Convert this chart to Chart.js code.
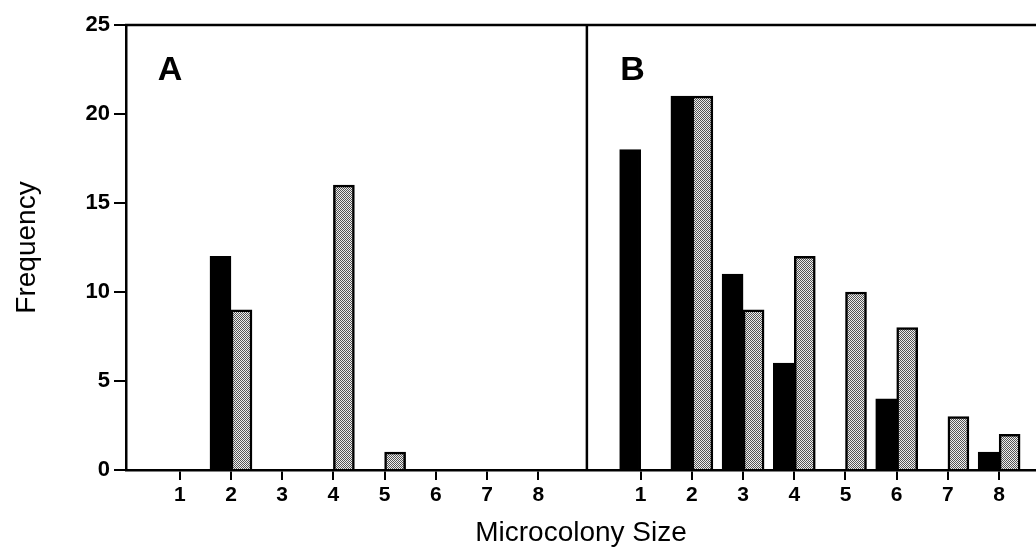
<!DOCTYPE html>
<html>
<head>
<meta charset="utf-8">
<script src="https://cdn.jsdelivr.net/npm/chart.js@4/dist/chart.umd.min.js"></script>
<style>
  body { margin: 0; background: #fff; }
  #wrap { width: 1036px; height: 550px; }
</style>
</head>
<body>
<div id="wrap"><canvas id="chart"></canvas></div>
<script>
// values
const sizes = ["1", "2", "3", "4", "5", "6", "7", "8"];
const panelA_black = [0, 12, 0, 0, 0, 0, 0, 0];
const panelA_gray = [0, 9, 0, 16, 1, 0, 0, 0];
const panelB_black = [18, 21, 11, 6, 0, 4, 0, 1];
const panelB_gray = [0, 21, 9, 12, 10, 8, 3, 2];
const yTicks = [0, 5, 10, 15, 20, 25];

// panel B sits 9 units to the right of panel A on the shared x scale
const offsetA = 1;
const offsetB = 10;
const dividerAt = 8.95;

function toPoints(values, offset) {
  const pts = [];
  values.forEach((v, i) => {
    if (v > 0) pts.push({ x: i + offset, y: v });
  });
  return pts;
}

// fine stipple fill for the grey bars
function stipple() {
  const c = document.createElement("canvas");
  c.width = 2;
  c.height = 2;
  const g = c.getContext("2d");
  g.fillStyle = "#eeeeee";
  g.fillRect(0, 0, 2, 2);
  g.fillStyle = "#555555";
  g.fillRect(0, 0, 1, 1);
  g.fillRect(1, 1, 1, 1);
  return g.createPattern(c, "repeat");
}

const tickPositions = sizes.map((s, i) => i + offsetA).concat(sizes.map((s, i) => i + offsetB));
const font = "'Liberation Sans', Arial, sans-serif";

const panelFrame = {
  id: "panelFrame",
  afterDraw(chart) {
    const { ctx, chartArea, scales } = chart;
    ctx.save();
    ctx.strokeStyle = "#000";
    ctx.lineWidth = 2.5;
    ctx.beginPath();
    ctx.moveTo(chartArea.left - 1, chartArea.top);
    ctx.lineTo(chartArea.right, chartArea.top);
    const dx = scales.x.getPixelForValue(dividerAt);
    ctx.moveTo(dx, chartArea.top);
    ctx.lineTo(dx, chartArea.bottom);
    ctx.stroke();

    ctx.fillStyle = "#000";
    ctx.font = "bold 34px " + font;
    ctx.textBaseline = "alphabetic";
    ctx.fillText("A", scales.x.getPixelForValue(0.57), scales.y.getPixelForValue(21.9));
    ctx.fillText("B", scales.x.getPixelForValue(9.6), scales.y.getPixelForValue(21.9));
    ctx.restore();
  }
};

new Chart(document.getElementById("chart"), {
  type: "bar",
  data: {
    datasets: [
      {
        label: "black",
        data: toPoints(panelA_black, offsetA).concat(toPoints(panelB_black, offsetB)),
        backgroundColor: "#000",
        borderColor: "#000",
        borderWidth: 2
      },
      {
        label: "grey",
        data: toPoints(panelA_gray, offsetA).concat(toPoints(panelB_gray, offsetB)),
        backgroundColor: stipple(),
        borderColor: "#000",
        borderWidth: 2.5
      }
    ]
  },
  options: {
    responsive: true,
    maintainAspectRatio: false,
    animation: false,
    layout: { padding: { left: 0, right: 0, top: 25, bottom: 0 } },
    datasets: { bar: { barThickness: 21, grouped: true } },
    plugins: { legend: { display: false }, tooltip: { enabled: false } },
    scales: {
      x: {
        type: "linear",
        offset: false,
        min: -0.05,
        max: 17.72,
        afterBuildTicks(scale) {
          scale.ticks = tickPositions.map(v => ({ value: v }));
        },
        afterFit(scale) { scale.height = 80; },
        ticks: {
          color: "#000",
          font: { family: font, size: 21, weight: "bold" },
          padding: 3,
          maxRotation: 0,
          autoSkip: false,
          callback(value) {
            const i = value >= offsetB ? value - offsetB : value - offsetA;
            return sizes[i];
          }
        },
        grid: { offset: false, drawOnChartArea: false, drawTicks: true, tickLength: 10, color: "#000", lineWidth: 2 },
        border: { display: true, color: "#000", width: 2.5 },
        title: {
          display: true,
          text: "Microcolony Size",
          color: "#000",
          font: { family: font, size: 28 },
          padding: { top: 0, bottom: 0 }
        }
      },
      y: {
        min: 0,
        max: 25,
        afterBuildTicks(scale) {
          scale.ticks = yTicks.map(v => ({ value: v }));
        },
        afterFit(scale) { scale.width = 126; },
        ticks: {
          color: "#000",
          font: { family: font, size: 22, weight: "bold" },
          padding: 4
        },
        grid: { drawOnChartArea: false, drawTicks: true, tickLength: 12, color: "#000", lineWidth: 2 },
        border: { display: true, color: "#000", width: 2.5 },
        title: {
          display: true,
          text: "Frequency",
          color: "#000",
          font: { family: font, size: 28 },
          padding: { top: 10, bottom: 0 }
        }
      }
    }
  },
  plugins: [panelFrame]
});
</script>
</body>
</html>
